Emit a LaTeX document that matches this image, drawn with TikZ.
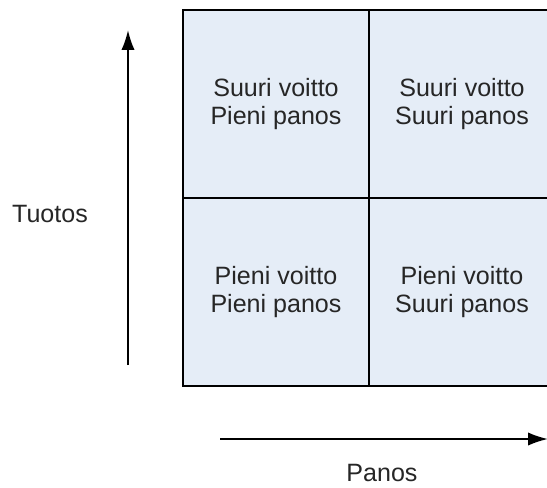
\documentclass[tikz,border=0pt]{standalone}
\usepackage{fontspec}
\setmainfont{Liberation Sans}
\usetikzlibrary{arrows.meta}
\definecolor{CellClr}{rgb}{0.90,0.93,0.97}
\definecolor{TextClr}{rgb}{0.15,0.15,0.15}

\tikzset{
  cell/.style={draw=black,line width=1.2pt,fill=CellClr,minimum width=139.5pt,
    minimum height=141pt,align=center,text=TextClr,font=\fontsize{18.8}{21}\selectfont},
  axis/.style={line width=1.5pt,-{Latex[length=15pt,width=10pt]}},
  axislabel/.style={text=TextClr,font=\fontsize{18.8}{21}\selectfont}
}

\begin{document}
\begin{tikzpicture}[scale=.75,x=1pt,y=-1pt]
\useasboundingbox (0,0) rectangle (547,488);
\clip (0,0) rectangle (547,488);

% the four cells
\node[cell] (sp) at (276,104) {Suuri voitto\\Pieni panos};
\node[cell] (ss) at (462,104) {Suuri voitto\\Suuri panos};
\node[cell] (pp) at (276,292) {Pieni voitto\\Pieni panos};
\node[cell] (ps) at (462,292) {Pieni voitto\\Suuri panos};

% axes
\coordinate (ya) at (128,365);
\coordinate (yb) at (128,30);
\coordinate (xa) at (220,439);
\coordinate (xb) at (548,439);
\draw[axis] (ya) -- (yb);
\draw[axis] (xa) -- (xb);

\node[axislabel] (tuotos) at (50,214) {Tuotos};
\node[axislabel] (panos) at (382,473) {Panos};

\end{tikzpicture}
\end{document}
